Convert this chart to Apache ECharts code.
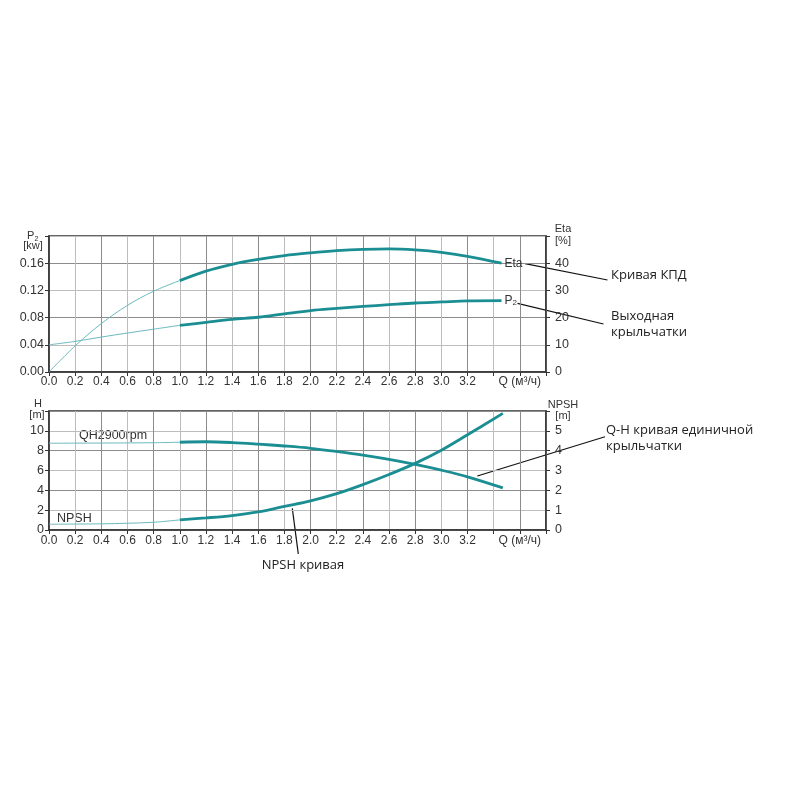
<!DOCTYPE html>
<html><head><meta charset="utf-8">
<script src="https://cdn.jsdelivr.net/npm/echarts@6/dist/echarts.min.js"></script>
<style>html,body{margin:0;padding:0;background:#fff}#c{width:800px;height:800px}</style>
</head><body><div id="c"></div>
<script>
// ---- data ----
const qTop = [0, 0.2, 0.4, 0.6, 0.8, 1.0, 1.2, 1.4, 1.6, 1.8, 2.0, 2.2, 2.4, 2.6, 2.8, 3.0, 3.2, 3.46];
const etaPct = [0, 9.6, 17.8, 24.5, 29.7, 33.6, 37.1, 39.6, 41.4, 42.8, 43.8, 44.6, 45.1, 45.3, 44.9, 44.0, 42.5, 40.0];
const p2kW = [0.040, 0.045, 0.0514, 0.0573, 0.063, 0.0686, 0.073, 0.0773, 0.0805, 0.0855, 0.0903, 0.0935, 0.0964, 0.099, 0.1015, 0.103, 0.1045, 0.105];
const qBot = [0, 0.2, 0.4, 0.6, 0.8, 1.0, 1.2, 1.4, 1.6, 1.8, 2.0, 2.2, 2.4, 2.6, 2.8, 3.0, 3.2, 3.47];
const headM = [8.75, 8.76, 8.77, 8.78, 8.8, 8.85, 8.9, 8.82, 8.66, 8.47, 8.24, 7.92, 7.56, 7.12, 6.61, 6.03, 5.36, 4.24];
const npshM = [0.29, 0.30, 0.31, 0.34, 0.39, 0.51, 0.61, 0.73, 0.91, 1.19, 1.47, 1.83, 2.29, 2.80, 3.36, 4.02, 4.80, 5.88];
const thickFrom = 1.0;
const qAxisName = 'Q (м³/ч)';

// ---- helpers ----
function part(qs, vs, thick) {
  const out = [];
  qs.forEach((q, i) => { if (thick ? q >= thickFrom : q <= thickFrom) out.push([q, vs[i]]); });
  return out;
}
const THIN = '#6cb9be', THICK = '#1b8e93';
const labelFont = 'Liberation Sans';
const axisTextColor = '#333';

function xAxisDef(idx, margin) {
  return {
    type: 'value', gridIndex: idx, min: 0, max: 3.8, interval: 0.2,
    axisLine: { show: true, lineStyle: { color: '#333', width: 1.5 } },
    axisTick: { show: true, length: 4, lineStyle: { color: '#333' } },
    axisLabel: {
      margin: margin, fontFamily: labelFont, fontSize: 12, color: axisTextColor,
      formatter: v => (Math.abs(v - 3.6) < 0.01 ? qAxisName : (v < 3.3 ? v.toFixed(1) : ''))
    },
    splitLine: { show: true, lineStyle: { color: ['#8c8c8c', '#bdbdbd'], width: 1 } }
  };
}
function yAxisDef(idx, pos, max, interval, digits, split) {
  return {
    type: 'value', gridIndex: idx, position: pos, min: 0, max: max, interval: interval,
    axisLine: { show: true, lineStyle: { color: '#333', width: 1.5 } },
    axisTick: { show: true, length: 4, lineStyle: { color: '#333' } },
    axisLabel: {
      margin: pos === 'left' ? 5 : 9, fontFamily: labelFont, fontSize: 12.5, color: axisTextColor,
      formatter: v => (v >= max - 1e-9 ? '' : v.toFixed(digits))
    },
    splitLine: { show: split, lineStyle: { color: ['#8c8c8c', '#bdbdbd'], width: 1 } }
  };
}
function line(name, data, xi, yi, thick, extra) {
  return Object.assign({
    name: name, type: 'line', xAxisIndex: xi, yAxisIndex: yi, data: data,
    symbol: 'none', smooth: 0.35, silent: true,
    lineStyle: { color: thick ? THICK : THIN, width: thick ? 2.8 : 1 }
  }, extra || {});
}
const endLbl = (txt) => ({
  endLabel: {
    show: true, distance: 3, formatter: txt, fontFamily: labelFont, fontSize: 12, color: '#333',
    rich: { s: { fontSize: 8, verticalAlign: 'bottom', fontFamily: labelFont, color: '#333', padding: [4, 0, 0, 0] }, n: { fontSize: 12, fontFamily: labelFont, color: '#333' } }
  }
});

const annoFont = '13px "Open Sans"';
function txt(x, y, s, opts) {
  return Object.assign({ type: 'text', x: x, y: y, silent: true,
    style: Object.assign({ text: s, font: annoFont, fill: '#222', textVerticalAlign: 'middle', textAlign: 'left' }, (opts || {})) });
}
function seg(x1, y1, x2, y2) {
  return { type: 'line', silent: true, shape: { x1, y1, x2, y2 }, style: { stroke: '#111', lineWidth: 1.2 } };
}
const smallFont = '11px "Liberation Sans"';

const chart = echarts.init(document.getElementById('c'), null, { renderer: 'canvas' });
chart.setOption({
  animation: false,
  backgroundColor: '#fff',
  grid: [
    { left: 49, width: 497, top: 236, height: 136, show: true, borderColor: '#333', borderWidth: 1.5, backgroundColor: 'transparent' },
    { left: 49, width: 497, top: 411, height: 119, show: true, borderColor: '#333', borderWidth: 1.5, backgroundColor: 'transparent' }
  ],
  xAxis: [xAxisDef(0, 4), xAxisDef(1, 5)],
  yAxis: [
    yAxisDef(0, 'left', 0.2, 0.04, 2, true),
    yAxisDef(0, 'right', 50, 10, 0, false),
    yAxisDef(1, 'left', 12, 2, 0, true),
    yAxisDef(1, 'right', 6, 1, 0, false)
  ],
  series: [
    line('Eta thin', part(qTop, etaPct, false), 0, 1, false),
    line('Eta', part(qTop, etaPct, true), 0, 1, true, endLbl('Eta')),
    line('P2 thin', part(qTop, p2kW, false), 0, 0, false),
    line('P2', part(qTop, p2kW, true), 0, 0, true, endLbl('{n|P}{s|2}')),
    line('QH thin', part(qBot, headM, false), 1, 2, false),
    line('QH', part(qBot, headM, true), 1, 2, true),
    line('NPSH thin', part(qBot, npshM, false), 1, 3, false),
    line('NPSH', part(qBot, npshM, true), 1, 3, true)
  ],
  graphic: [
    // axis names
    txt(27, 236, 'P', { font: '11px "Liberation Sans"', fill: '#333' }),
    txt(34.5, 239, '2', { font: '7px "Liberation Sans"', fill: '#333' }),
    txt(33, 246, '[kw]', { font: smallFont, fill: '#333', textAlign: 'center' }),
    txt(563, 229, 'Eta', { font: smallFont, fill: '#333', textAlign: 'center' }),
    txt(563, 241, '[%]', { font: smallFont, fill: '#333', textAlign: 'center' }),
    txt(38, 404, 'H', { font: smallFont, fill: '#333', textAlign: 'center' }),
    txt(37, 415, '[m]', { font: smallFont, fill: '#333', textAlign: 'center' }),
    txt(563, 405, 'NPSH', { font: smallFont, fill: '#333', textAlign: 'center' }),
    txt(563, 416, '[m]', { font: smallFont, fill: '#333', textAlign: 'center' }),
    // curve labels
    txt(79, 435.5, 'QH2900rpm', { font: '12.5px "Liberation Sans"', fill: '#333' }),
    txt(57, 518.5, 'NPSH', { font: '12.5px "Liberation Sans"', fill: '#333' }),
    // annotations
    seg(525, 263.7, 607.5, 280),
    txt(611, 275, 'Кривая КПД'),
    seg(517.5, 303.3, 603.5, 324),
    txt(611, 316.5, 'Выходная'),
    txt(611, 332, 'крыльчатки'),
    seg(477.3, 476, 605, 436.7),
    txt(606, 430, 'Q-H кривая единичной'),
    txt(606, 446, 'крыльчатки'),
    seg(292.3, 508.3, 298.3, 554),
    txt(303, 565, 'NPSH кривая', { textAlign: 'center' })
  ]
});
</script></body></html>
